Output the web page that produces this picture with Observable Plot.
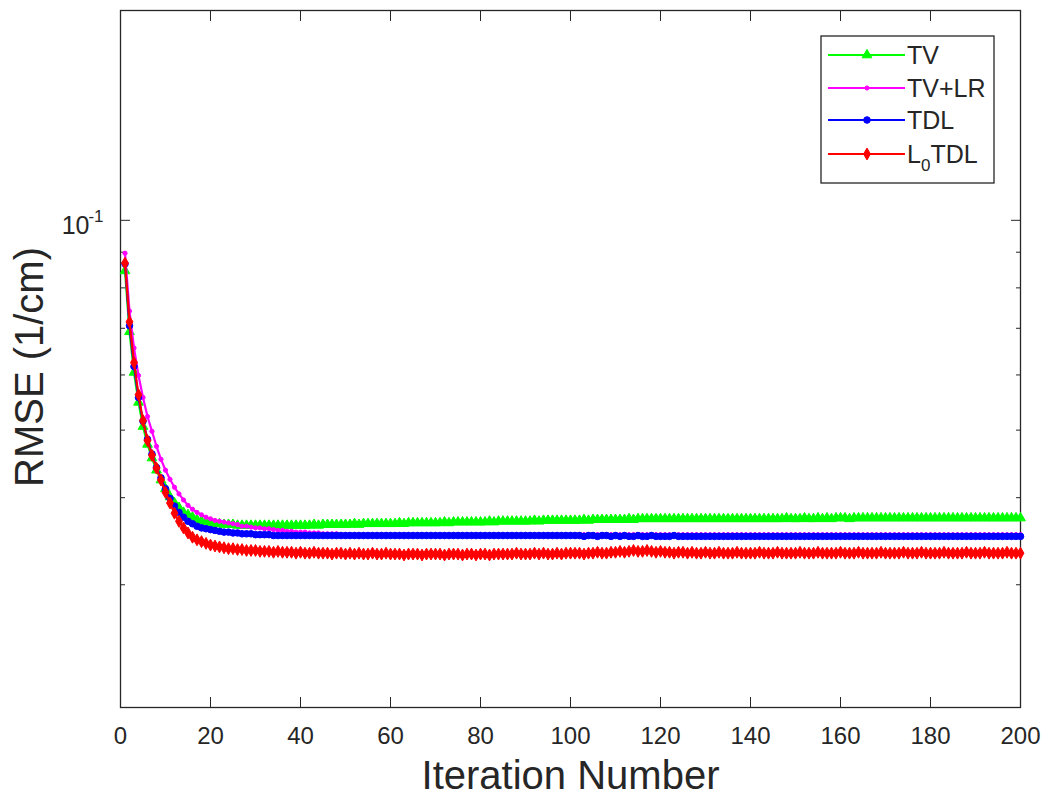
<!DOCTYPE html>
<html><head><meta charset="utf-8">
<script src="https://cdn.jsdelivr.net/npm/d3@7"></script>
<script src="https://cdn.jsdelivr.net/npm/@observablehq/plot@0.6"></script>
<style>
body{margin:0;background:#fff;}
#wrap{position:relative;width:1050px;height:804px;font-family:"Liberation Sans",Arial,Helvetica,sans-serif;color:#262626;}
</style></head><body><div id="wrap"></div>
<script>
const methods = ["TV", "TV+LR", "TDL", "L0TDL"];
const colors = ["#00ff00", "#ff00ff", "#0000ff", "#ff0000"];
const xTicks = [0, 20, 40, 60, 80, 100, 120, 140, 160, 180, 200];
const yMajorTicks = [0.1];
const yMinorTicks = [0.02, 0.03, 0.04, 0.05, 0.06, 0.07, 0.08, 0.09, 0.2];

const tvRMSE = [
0.0846,0.0692,0.0605,0.0548,0.0506,0.0477,0.0456,0.0438,0.0424,0.0412,0.0401,0.0393,0.0387,0.0381,0.0378,0.0375,0.0372,0.0370,0.0369,0.0368,
0.0367,0.0367,0.0366,0.0366,0.0366,0.0365,0.0365,0.0365,0.0365,0.0365,0.0365,0.0365,0.0365,0.0365,0.0365,0.0365,0.0365,0.0365,0.0365,0.0365,
0.0365,0.0365,0.0366,0.0365,0.0366,0.0366,0.0366,0.0366,0.0366,0.0366,0.0366,0.0367,0.0366,0.0367,0.0367,0.0367,0.0367,0.0367,0.0367,0.0367,
0.0367,0.0368,0.0367,0.0368,0.0368,0.0368,0.0368,0.0368,0.0368,0.0368,0.0368,0.0369,0.0368,0.0369,0.0369,0.0369,0.0369,0.0369,0.0369,0.0369,
0.0369,0.0370,0.0369,0.0370,0.0370,0.0370,0.0370,0.0370,0.0370,0.0370,0.0370,0.0371,0.0370,0.0371,0.0371,0.0371,0.0371,0.0371,0.0371,0.0371,
0.0371,0.0371,0.0372,0.0371,0.0372,0.0372,0.0372,0.0372,0.0372,0.0372,0.0372,0.0372,0.0373,0.0372,0.0373,0.0373,0.0373,0.0373,0.0373,0.0373,
0.0373,0.0373,0.0373,0.0373,0.0373,0.0373,0.0373,0.0373,0.0373,0.0373,0.0373,0.0373,0.0373,0.0373,0.0373,0.0373,0.0373,0.0373,0.0373,0.0373,
0.0373,0.0373,0.0373,0.0373,0.0373,0.0373,0.0373,0.0374,0.0373,0.0373,0.0373,0.0374,0.0373,0.0373,0.0374,0.0373,0.0374,0.0373,0.0374,0.0374,
0.0374,0.0373,0.0374,0.0374,0.0374,0.0374,0.0374,0.0374,0.0374,0.0374,0.0374,0.0374,0.0374,0.0374,0.0374,0.0374,0.0374,0.0374,0.0374,0.0374,
0.0374,0.0374,0.0374,0.0374,0.0374,0.0374,0.0374,0.0374,0.0374,0.0374,0.0374,0.0374,0.0374,0.0374,0.0374,0.0374,0.0374,0.0374,0.0374,0.0374
];
const tvlrRMSE = [
0.0897,0.0741,0.0656,0.0599,0.0557,0.0523,0.0498,0.0474,0.0454,0.0438,0.0425,0.0414,0.0405,0.0397,0.0390,0.0385,0.0381,0.0378,0.0375,0.0373,
0.0371,0.0370,0.0369,0.0368,0.0367,0.0366,0.0364,0.0364,0.0363,0.0362,0.0362,0.0361,0.0361,0.0360,0.0359,0.0359,0.0358,0.0358,0.0357,0.0357,
0.0357,0.0356,0.0356,0.0356,0.0355,0.0355,0.0355,0.0355,0.0354,0.0354,0.0354,0.0354,0.0354,0.0354,0.0354,0.0354,0.0354,0.0354,0.0354,0.0354,
0.0354,0.0354,0.0354,0.0354,0.0354,0.0354,0.0354,0.0354,0.0354,0.0354,0.0354,0.0354,0.0354,0.0354,0.0354,0.0354,0.0354,0.0354,0.0354,0.0354,
0.0354,0.0354,0.0354,0.0354,0.0354,0.0354,0.0354,0.0354,0.0354,0.0354,0.0354,0.0354,0.0354,0.0354,0.0354,0.0354,0.0354,0.0354,0.0354,0.0354,
0.0354,0.0354,0.0354,0.0354,0.0354,0.0354,0.0354,0.0354,0.0354,0.0354,0.0354,0.0354,0.0354,0.0354,0.0354,0.0354,0.0354,0.0354,0.0354,0.0354,
0.0354,0.0354,0.0354,0.0354,0.0354,0.0354,0.0354,0.0354,0.0354,0.0354,0.0354,0.0354,0.0354,0.0354,0.0354,0.0354,0.0354,0.0354,0.0354,0.0354,
0.0354,0.0354,0.0354,0.0354,0.0354,0.0354,0.0354,0.0354,0.0354,0.0354,0.0354,0.0354,0.0354,0.0354,0.0354,0.0354,0.0354,0.0354,0.0354,0.0354,
0.0354,0.0354,0.0354,0.0354,0.0354,0.0354,0.0354,0.0354,0.0354,0.0354,0.0354,0.0354,0.0354,0.0354,0.0354,0.0354,0.0354,0.0354,0.0354,0.0354,
0.0354,0.0354,0.0354,0.0354,0.0354,0.0354,0.0354,0.0354,0.0354,0.0354,0.0354,0.0354,0.0354,0.0354,0.0354,0.0354,0.0354,0.0354,0.0354,0.0354
];
const tdlRMSE = [
0.0866,0.0706,0.0617,0.0557,0.0515,0.0485,0.0462,0.0442,0.0427,0.0412,0.0399,0.0389,0.0381,0.0375,0.0370,0.0367,0.0364,0.0362,0.0361,0.0360,
0.0359,0.0358,0.0357,0.0357,0.0356,0.0356,0.0355,0.0355,0.0355,0.0354,0.0354,0.0354,0.0354,0.0353,0.0353,0.0353,0.0353,0.0353,0.0353,0.0353,
0.0353,0.0353,0.0353,0.0353,0.0353,0.0353,0.0353,0.0353,0.0353,0.0353,0.0353,0.0353,0.0353,0.0353,0.0353,0.0353,0.0353,0.0353,0.0353,0.0353,
0.0353,0.0353,0.0353,0.0353,0.0353,0.0353,0.0353,0.0353,0.0353,0.0353,0.0353,0.0353,0.0353,0.0353,0.0353,0.0353,0.0353,0.0353,0.0353,0.0353,
0.0353,0.0353,0.0353,0.0353,0.0353,0.0353,0.0353,0.0353,0.0353,0.0353,0.0353,0.0353,0.0353,0.0353,0.0353,0.0353,0.0353,0.0353,0.0353,0.0353,
0.0353,0.0353,0.0352,0.0353,0.0353,0.0352,0.0353,0.0353,0.0352,0.0353,0.0352,0.0353,0.0352,0.0352,0.0353,0.0352,0.0352,0.0353,0.0352,0.0352,
0.0352,0.0352,0.0353,0.0352,0.0352,0.0352,0.0352,0.0352,0.0352,0.0352,0.0352,0.0352,0.0352,0.0352,0.0352,0.0352,0.0352,0.0352,0.0352,0.0352,
0.0352,0.0352,0.0352,0.0352,0.0352,0.0352,0.0352,0.0352,0.0352,0.0352,0.0352,0.0352,0.0352,0.0352,0.0352,0.0352,0.0352,0.0352,0.0352,0.0352,
0.0352,0.0352,0.0352,0.0352,0.0352,0.0352,0.0352,0.0352,0.0352,0.0352,0.0352,0.0352,0.0352,0.0352,0.0352,0.0352,0.0352,0.0352,0.0352,0.0352,
0.0352,0.0352,0.0352,0.0352,0.0352,0.0352,0.0352,0.0352,0.0352,0.0352,0.0352,0.0352,0.0352,0.0352,0.0352,0.0352,0.0352,0.0352,0.0352,0.0352
];
const l0tdlRMSE = [
0.0868,0.0715,0.0625,0.0562,0.0516,0.0483,0.0460,0.0441,0.0424,0.0407,0.0393,0.0380,0.0370,0.0362,0.0356,0.0351,0.0348,0.0346,0.0344,0.0342,
0.0341,0.0340,0.0339,0.0338,0.0338,0.0337,0.0337,0.0336,0.0336,0.0336,0.0335,0.0335,0.0335,0.0334,0.0335,0.0334,0.0334,0.0334,0.0333,0.0334,
0.0333,0.0333,0.0334,0.0333,0.0333,0.0333,0.0332,0.0333,0.0333,0.0332,0.0333,0.0332,0.0333,0.0332,0.0332,0.0333,0.0332,0.0332,0.0333,0.0332,
0.0332,0.0332,0.0331,0.0332,0.0332,0.0332,0.0331,0.0332,0.0332,0.0332,0.0332,0.0331,0.0332,0.0332,0.0332,0.0331,0.0332,0.0332,0.0331,0.0332,
0.0332,0.0331,0.0332,0.0332,0.0332,0.0332,0.0332,0.0333,0.0332,0.0332,0.0332,0.0333,0.0332,0.0333,0.0332,0.0332,0.0333,0.0332,0.0333,0.0333,
0.0333,0.0333,0.0332,0.0333,0.0333,0.0334,0.0333,0.0333,0.0334,0.0334,0.0335,0.0334,0.0335,0.0336,0.0335,0.0335,0.0336,0.0335,0.0334,0.0335,
0.0334,0.0334,0.0333,0.0334,0.0334,0.0333,0.0334,0.0333,0.0333,0.0334,0.0333,0.0333,0.0334,0.0333,0.0333,0.0333,0.0334,0.0333,0.0333,0.0333,
0.0333,0.0334,0.0333,0.0333,0.0333,0.0334,0.0333,0.0333,0.0333,0.0333,0.0334,0.0333,0.0333,0.0333,0.0334,0.0333,0.0333,0.0333,0.0333,0.0334,
0.0333,0.0333,0.0333,0.0334,0.0333,0.0333,0.0333,0.0333,0.0334,0.0333,0.0333,0.0333,0.0333,0.0334,0.0333,0.0333,0.0333,0.0334,0.0333,0.0333,
0.0333,0.0333,0.0334,0.0333,0.0333,0.0333,0.0333,0.0334,0.0333,0.0333,0.0333,0.0334,0.0333,0.0333,0.0333,0.0333,0.0334,0.0333,0.0333,0.0333
];

const seriesValues = [tvRMSE, tvlrRMSE, tdlRMSE, l0tdlRMSE];
const symbols = ["triangle", "circle", "circle", "diamond"];
const radii = [3.6, 2.1, 3.3, 3.6];
const axisColor = "#262626";

const series = methods.map((m, k) => seriesValues[k].map((v, i) => ({method: m, iter: i + 1, rmse: v})));

const dataMarks = series.flatMap((data, k) => [
  Plot.line(data, {x: "iter", y: "rmse", stroke: colors[k], strokeWidth: 2.2}),
  Plot.dot(data, {x: "iter", y: "rmse", symbol: symbols[k], r: radii[k], fill: colors[k], stroke: colors[k], strokeWidth: 1})
]);

const chart = Plot.plot({
  width: 1050,
  height: 804,
  marginLeft: 120,
  marginRight: 30,
  marginTop: 10,
  marginBottom: 97,
  style: {fontFamily: "'Liberation Sans', Arial, Helvetica, sans-serif", color: axisColor, background: "white", overflow: "visible"},
  x: {domain: [0, 200], label: null},
  y: {type: "log", domain: [0.02, 0.2], label: null},
  marks: [
    Plot.frame({stroke: axisColor, strokeWidth: 1.3}),
    // inward ticks on all four sides
    Plot.axisX(xTicks, {anchor: "bottom", tickSize: 10, dy: -10, fill: "none", stroke: axisColor, label: null}),
    Plot.axisX(xTicks, {anchor: "top", tickSize: 10, dy: 10, fill: "none", stroke: axisColor, label: null}),
    Plot.axisY(yMajorTicks, {anchor: "left", tickSize: 10, dx: 10, fill: "none", stroke: axisColor, label: null}),
    Plot.axisY(yMajorTicks, {anchor: "right", tickSize: 10, dx: -10, fill: "none", stroke: axisColor, label: null}),
    Plot.axisY(yMinorTicks, {anchor: "left", tickSize: 5, dx: 5, fill: "none", stroke: axisColor, label: null}),
    Plot.axisY(yMinorTicks, {anchor: "right", tickSize: 5, dx: -5, fill: "none", stroke: axisColor, label: null}),
    // x tick labels
    Plot.axisX(xTicks, {anchor: "bottom", tickSize: 0, tickPadding: 19, fontSize: 24, fill: axisColor, label: null, tickFormat: d => String(d)}),
    // y major tick label 10^-1
    Plot.text(yMajorTicks, {y: d => d, frameAnchor: "left", text: () => "10", textAnchor: "end", dx: -31, dy: 6, fontSize: 25, fill: axisColor}),
    Plot.text(yMajorTicks, {y: d => d, frameAnchor: "left", text: () => "-1", textAnchor: "end", dx: -17, dy: -4, fontSize: 17, fill: axisColor}),
    // axis titles
    Plot.text(["Iteration Number"], {text: d => d, frameAnchor: "bottom", lineAnchor: "middle", textAnchor: "middle", dy: 69, fontSize: 40, fill: axisColor}),
    Plot.text(["RMSE (1/cm)"], {text: d => d, frameAnchor: "left", lineAnchor: "middle", textAnchor: "middle", rotate: -90, dx: -90, dy: 8, fontSize: 40, fill: axisColor}),
    ...dataMarks
  ]
});

const wrap = document.getElementById("wrap");
wrap.appendChild(chart);

// Legend (line + marker swatches)
const lg = d3.select(wrap).append("svg")
  .attr("width", 1050).attr("height", 804)
  .style("position", "absolute").style("left", "0px").style("top", "0px")
  .style("pointer-events", "none")
  .style("font-family", "'Liberation Sans', Arial, Helvetica, sans-serif");
lg.append("rect").attr("x", 821).attr("y", 36).attr("width", 173).attr("height", 147)
  .attr("fill", "white").attr("stroke", axisColor).attr("stroke-width", 1.3);
const rowY = [55, 88, 120, 154];
methods.forEach((m, k) => {
  const g = lg.append("g").attr("transform", `translate(0,${rowY[k]})`);
  g.append("line").attr("x1", 828).attr("x2", 905).attr("y1", 0).attr("y2", 0)
    .attr("stroke", colors[k]).attr("stroke-width", 2.2);
  const sym = {triangle: d3.symbolTriangle, circle: d3.symbolCircle, diamond: d3.symbolDiamond}[symbols[k]];
  g.append("path").attr("d", d3.symbol(sym, Math.PI * radii[k] * radii[k])())
    .attr("transform", "translate(867,0)").attr("fill", colors[k]).attr("stroke", colors[k]).attr("stroke-width", 1);
  const t = g.append("text").attr("x", 907).attr("y", 0).attr("dy", "0.36em")
    .attr("font-size", 25).attr("fill", axisColor);
  if (m === "L0TDL") {
    t.append("tspan").text("L");
    t.append("tspan").attr("font-size", 17).attr("dy", 8).text("0");
    t.append("tspan").attr("dy", -8).text("TDL");
  } else {
    t.text(m);
  }
});
</script>
</body></html>
